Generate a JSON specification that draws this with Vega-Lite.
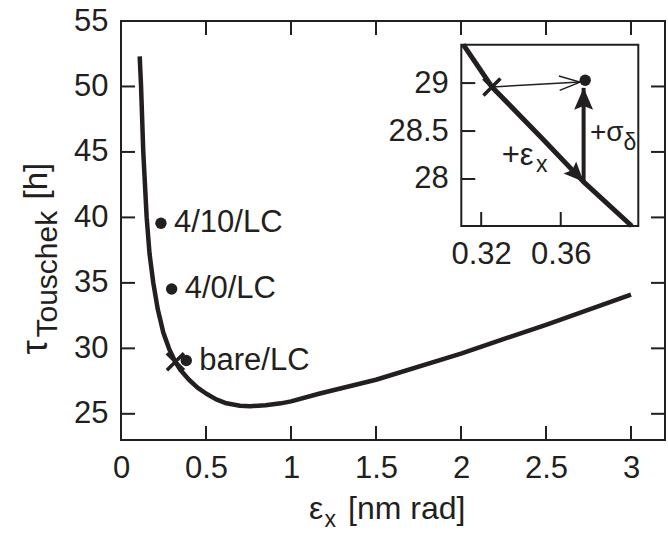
{
  "$schema": "https://vega.github.io/schema/vega-lite/v6.json",
  "width": 544,
  "height": 419,
  "autosize": {"type": "none"},
  "padding": {"left": 121, "top": 21, "right": 3, "bottom": 93},
  "background": "white",
  "config": {
    "view": {"stroke": "#231f20", "strokeWidth": 2},
    "font": "Liberation Sans",
    "axis": {
      "domain": false,
      "grid": false,
      "ticks": false,
      "labelFont": "Liberation Sans",
      "labelFontSize": 31,
      "labelColor": "#231f20",
      "labelPadding": 13,
      "labelOverlap": false,
      "labelFlush": false,
      "format": "~g",
      "titleFont": "Liberation Sans",
      "titleFontWeight": "normal",
      "titleColor": "#231f20",
      "titlePadding": 0
    },
    "text": {"font": "Liberation Sans", "color": "#231f20"}
  },
  "datasets": {
    "tau": [
      {"emit": 0.11, "tau": 52.3},
      {"emit": 0.118, "tau": 50.0},
      {"emit": 0.131, "tau": 45.0},
      {"emit": 0.151, "tau": 40.0},
      {"emit": 0.168, "tau": 37.2},
      {"emit": 0.19, "tau": 35.0},
      {"emit": 0.216, "tau": 33.0},
      {"emit": 0.249, "tau": 31.2},
      {"emit": 0.285, "tau": 29.9},
      {"emit": 0.32, "tau": 28.95},
      {"emit": 0.35, "tau": 28.35},
      {"emit": 0.4, "tau": 27.6},
      {"emit": 0.45, "tau": 27.0},
      {"emit": 0.5, "tau": 26.55},
      {"emit": 0.56, "tau": 26.1},
      {"emit": 0.62, "tau": 25.8},
      {"emit": 0.7, "tau": 25.62},
      {"emit": 0.76, "tau": 25.58},
      {"emit": 0.85, "tau": 25.65},
      {"emit": 0.94, "tau": 25.8},
      {"emit": 1.0, "tau": 25.95},
      {"emit": 1.17, "tau": 26.55},
      {"emit": 1.5, "tau": 27.6},
      {"emit": 2.0, "tau": 29.6},
      {"emit": 2.5, "tau": 31.8},
      {"emit": 3.0, "tau": 34.1}
    ],
    "emitTicksBottom": [
      {"emit": 0, "tau": 23}, {"emit": 0.5, "tau": 23}, {"emit": 1, "tau": 23}, {"emit": 1.5, "tau": 23},
      {"emit": 2, "tau": 23}, {"emit": 2.5, "tau": 23}, {"emit": 3, "tau": 23}
    ],
    "emitTicksTop": [
      {"emit": 0, "tau": 55}, {"emit": 0.5, "tau": 55}, {"emit": 1, "tau": 55}, {"emit": 1.5, "tau": 55},
      {"emit": 2, "tau": 55}, {"emit": 2.5, "tau": 55}, {"emit": 3, "tau": 55}
    ],
    "tauTicksLeft": [
      {"emit": 0, "tau": 25}, {"emit": 0, "tau": 30}, {"emit": 0, "tau": 35}, {"emit": 0, "tau": 40},
      {"emit": 0, "tau": 45}, {"emit": 0, "tau": 50}, {"emit": 0, "tau": 55}
    ],
    "tauTicksRight": [
      {"emit": 3.2, "tau": 25}, {"emit": 3.2, "tau": 30}, {"emit": 3.2, "tau": 35}, {"emit": 3.2, "tau": 40},
      {"emit": 3.2, "tau": 45}, {"emit": 3.2, "tau": 50}, {"emit": 3.2, "tau": 55}
    ],
    "zoomEmitTicks": [{"emit": 0.32, "tau": 27.51}, {"emit": 0.36, "tau": 27.51}],
    "zoomTauTicks": [{"emit": 0.31, "tau": 28}, {"emit": 0.31, "tau": 28.5}, {"emit": 0.31, "tau": 29}],
    "cases": [
      {"emit": 0.235, "tau": 39.55, "name": "4/10/LC"},
      {"emit": 0.298, "tau": 34.53, "name": "4/0/LC"},
      {"emit": 0.384, "tau": 29.07, "name": "bare/LC"}
    ],
    "bare": [{"emit": 0.32, "tau": 28.97}],
    "zoomWindow": [{"emit": 0.31, "emit2": 0.399, "tau": 27.51, "tau2": 29.4}],
    "zoomCurve": [
      {"emit": 0.311, "tau": 29.4},
      {"emit": 0.3254, "tau": 28.96},
      {"emit": 0.3513, "tau": 28.41},
      {"emit": 0.3715, "tau": 27.97},
      {"emit": 0.3957, "tau": 27.51}
    ],
    "zoomBare": [{"emit": 0.3254, "tau": 28.96}],
    "zoomCase": [{"emit": 0.3723, "tau": 29.03}],
    "shiftEmit": [{"emit": 0.3254, "tau": 28.96, "emit2": 0.3697, "tau2": 29.01}],
    "shiftEmitTip": [{"emit": 0.3697, "tau": 29.01}],
    "shiftSigma": [{"emit": 0.3715, "tau": 27.97, "emit2": 0.3715, "tau2": 28.95}],
    "shiftSigmaTip": [{"emit": 0.3715, "tau": 28.95}],
    "alongCurveTip": [{"emit": 0.3715, "tau": 27.97}],
    "notes": [{"emit": 0.3303, "tau": 28.146, "t": "+ε"}],
    "notesSigma": [{"emit": 0.3747, "tau": 28.396, "t": "+σ"}],
    "noteSubs": [
      {"emit": 0.3475, "tau": 28.073, "t": "x"},
      {"emit": 0.3915, "tau": 28.302, "t": "δ"}
    ]
  },
  "layer": [
    {
      "encoding": {
        "x": {
          "field": "emit", "type": "quantitative",
          "scale": {"domain": [0, 3.2], "nice": false, "zero": false},
          "axis": {
            "orient": "bottom",
            "values": [0, 0.5, 1, 1.5, 2, 2.5, 3],
            "title": "ε",
            "titleFontSize": 32,
            "titleAngle": 0,
            "titleAlign": "left",
            "titleBaseline": "alphabetic",
            "titleX": 187.6,
            "titleY": 78
          }
        },
        "y": {
          "field": "tau", "type": "quantitative",
          "scale": {"domain": [23, 55], "nice": false, "zero": false},
          "axis": {
            "orient": "left",
            "values": [25, 30, 35, 40, 45, 50, 55],
            "title": "τ",
            "titleFontSize": 36,
            "titleAngle": 270,
            "titleAlign": "left",
            "titleBaseline": "alphabetic",
            "titleX": -75,
            "titleY": 333
          }
        }
      },
      "layer": [
        {
          "data": {"name": "emitTicksBottom"},
          "mark": {"type": "tick", "orient": "vertical", "color": "#231f20", "size": 14, "thickness": 2, "yOffset": -7, "opacity": 1}
        },
        {
          "data": {"name": "emitTicksTop"},
          "mark": {"type": "tick", "orient": "vertical", "color": "#231f20", "size": 14, "thickness": 2, "yOffset": 7, "opacity": 1}
        },
        {
          "data": {"name": "tauTicksLeft"},
          "mark": {"type": "tick", "orient": "horizontal", "color": "#231f20", "size": 14, "thickness": 2, "xOffset": 7, "opacity": 1}
        },
        {
          "data": {"name": "tauTicksRight"},
          "mark": {"type": "tick", "orient": "horizontal", "color": "#231f20", "size": 14, "thickness": 2, "xOffset": -7, "opacity": 1}
        },
        {
          "data": {"name": "tau"},
          "mark": {"type": "line", "color": "#231f20", "strokeWidth": 4.5, "strokeJoin": "round"}
        },
        {
          "data": {"name": "bare"},
          "mark": {"type": "point", "shape": "M-1,-1L1,1M-1,1L1,-1", "filled": false, "stroke": "#231f20", "strokeWidth": 3.5, "size": 289, "opacity": 1}
        },
        {
          "data": {"name": "cases"},
          "mark": {"type": "circle", "color": "#231f20", "size": 130, "opacity": 1}
        },
        {
          "data": {"name": "cases"},
          "mark": {"type": "text", "align": "left", "baseline": "middle", "dx": 13, "fontSize": 31},
          "encoding": {"text": {"field": "name"}}
        }
      ]
    },
    {
      "data": {"name": "tau"},
      "mark": {"type": "point", "opacity": 0},
      "encoding": {
        "x": {
          "field": "emit", "type": "quantitative",
          "scale": {"domain": [0, 3.2], "nice": false, "zero": false},
          "axis": {
            "orient": "top",
            "values": [0, 0.5, 1, 1.5, 2, 2.5, 3],
            "labels": false,
            "title": "x",
            "titleFontSize": 23,
            "titleAngle": 0,
            "titleAlign": "left",
            "titleBaseline": "alphabetic",
            "titleX": 203,
            "titleY": 505
          }
        },
        "y": {
          "field": "tau", "type": "quantitative",
          "scale": {"domain": [23, 55], "nice": false, "zero": false},
          "axis": {
            "orient": "right",
            "values": [25, 30, 35, 40, 45, 50, 55],
            "labels": false,
            "title": "Touschek",
            "titleFontSize": 30,
            "titleAngle": 270,
            "titleAlign": "left",
            "titleBaseline": "alphabetic",
            "titleX": -609,
            "titleY": 316
          }
        }
      }
    },
    {
      "encoding": {
        "x": {
          "field": "emit", "type": "quantitative",
          "scale": {"domain": [0.31, 0.399], "range": [340.3, 517.3], "nice": false, "zero": false},
          "axis": {
            "orient": "bottom",
            "offset": -214,
            "values": [0.32, 0.36],
            "title": "[nm rad]",
            "titleFontSize": 32,
            "titleAngle": 0,
            "titleAlign": "left",
            "titleBaseline": "alphabetic",
            "titleX": 226.5,
            "titleY": 292
          }
        },
        "y": {
          "field": "tau", "type": "quantitative",
          "scale": {"domain": [27.51, 29.4], "range": [205, 23.7], "nice": false, "zero": false},
          "axis": {
            "orient": "left",
            "offset": -340.3,
            "values": [28, 28.5, 29],
            "title": "[h]",
            "titleFontSize": 33,
            "titleAngle": 270,
            "titleAlign": "left",
            "titleBaseline": "alphabetic",
            "titleX": -415.3,
            "titleY": 178
          }
        }
      },
      "layer": [
        {
          "data": {"name": "zoomWindow"},
          "mark": {"type": "rect", "fill": "white", "stroke": "#231f20", "strokeWidth": 2},
          "encoding": {"x2": {"field": "emit2"}, "y2": {"field": "tau2"}}
        },
        {
          "data": {"name": "zoomEmitTicks"},
          "mark": {"type": "tick", "orient": "vertical", "color": "#231f20", "size": 14, "thickness": 2, "yOffset": -7, "opacity": 1}
        },
        {
          "data": {"name": "zoomTauTicks"},
          "mark": {"type": "tick", "orient": "horizontal", "color": "#231f20", "size": 14, "thickness": 2, "xOffset": 7, "opacity": 1}
        },
        {
          "data": {"name": "zoomCurve"},
          "mark": {"type": "line", "color": "#231f20", "strokeWidth": 5, "strokeJoin": "round"}
        },
        {
          "data": {"name": "shiftEmit"},
          "mark": {"type": "rule", "color": "#231f20", "strokeWidth": 1.5},
          "encoding": {"x2": {"field": "emit2"}, "y2": {"field": "tau2"}}
        },
        {
          "data": {"name": "shiftEmitTip"},
          "mark": {"type": "point", "shape": "M-0.72,2.08L0,0L0.72,2.08", "filled": false, "stroke": "#231f20", "strokeWidth": 1.5, "size": 400, "angle": 86.9, "opacity": 1}
        },
        {
          "data": {"name": "shiftSigma"},
          "mark": {"type": "rule", "color": "#231f20", "strokeWidth": 4},
          "encoding": {"x2": {"field": "emit2"}, "y2": {"field": "tau2"}}
        },
        {
          "data": {"name": "shiftSigmaTip"},
          "mark": {"type": "point", "shape": "M0,0L-1,2.3L0,1.9L1,2.3Z", "filled": true, "color": "#231f20", "size": 361, "angle": 0, "opacity": 1}
        },
        {
          "data": {"name": "alongCurveTip"},
          "mark": {"type": "point", "shape": "M0,0L-1,2.3L0,1.9L1,2.3Z", "filled": true, "color": "#231f20", "size": 300, "angle": 136.5, "opacity": 1}
        },
        {
          "data": {"name": "zoomBare"},
          "mark": {"type": "point", "shape": "M-1,-1L1,1M-1,1L1,-1", "filled": false, "stroke": "#231f20", "strokeWidth": 3.5, "size": 289, "opacity": 1}
        },
        {
          "data": {"name": "zoomCase"},
          "mark": {"type": "circle", "color": "#231f20", "size": 130, "opacity": 1}
        },
        {
          "data": {"name": "notes"},
          "mark": {"type": "text", "align": "left", "baseline": "alphabetic", "fontSize": 31},
          "encoding": {"text": {"field": "t"}}
        },
        {
          "data": {"name": "notesSigma"},
          "mark": {"type": "text", "align": "left", "baseline": "alphabetic", "fontSize": 28},
          "encoding": {"text": {"field": "t"}}
        },
        {
          "data": {"name": "noteSubs"},
          "mark": {"type": "text", "align": "left", "baseline": "alphabetic", "fontSize": 23},
          "encoding": {"text": {"field": "t"}}
        }
      ]
    }
  ],
  "resolve": {
    "scale": {"x": "independent", "y": "independent"},
    "axis": {"x": "independent", "y": "independent"}
  }
}
